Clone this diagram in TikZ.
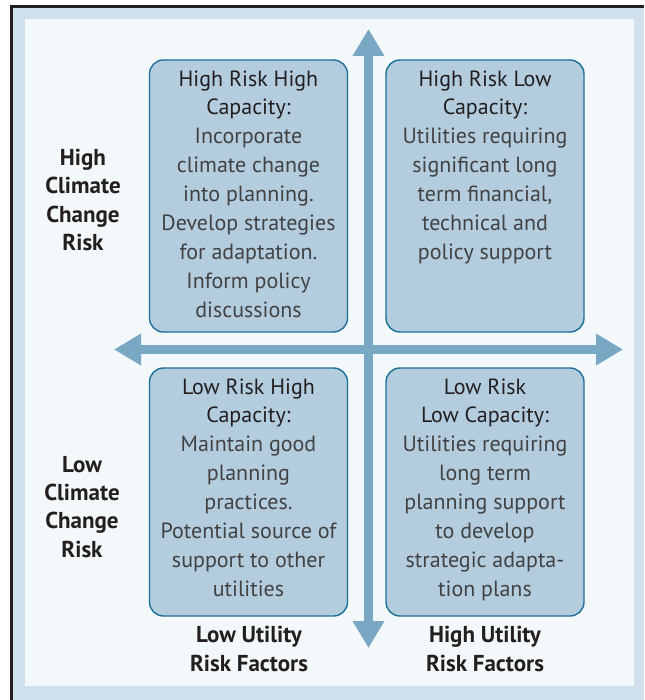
\documentclass[tikz,border=0pt]{standalone}
\usepackage{fontspec}
\setmainfont{PT Sans}
\usepackage{tikz}
\usetikzlibrary{arrows.meta,positioning}

\definecolor{frameband}{HTML}{CFE0EC}
\definecolor{panelbg}{HTML}{F3F9FA}
\definecolor{boxfill}{HTML}{B3CCDE}
\definecolor{boxline}{HTML}{1D6E98}
\definecolor{axisblue}{HTML}{79A7C4}
\definecolor{inktext}{HTML}{231F20}
\definecolor{bodytext}{HTML}{424242}

\newcommand{\qtitle}[1]{\textcolor{inktext}{#1}}

\begin{document}
\begin{tikzpicture}[
x=1pt, y=-1pt,
font=\fontsize{22}{28.9}\selectfont,
quadrant/.style={draw=boxline, fill=boxfill, line width=1.4pt, rounded corners=14pt,
  minimum width=198pt, minimum height=272pt, inner sep=0pt},
lowquadrant/.style={quadrant, minimum height=248pt},
quadtext/.style={align=center, anchor=north, inner sep=0pt, text=bodytext},
sidelabel/.style={align=center, inner sep=0pt, text=inktext,
  font=\fontsize{23}{28.2}\selectfont\bfseries},
riskaxis/.style={line width=8.5pt, draw=axisblue,
  {Triangle[length=27pt,width=30pt]}-{Triangle[length=27pt,width=30pt]}}
]
    \useasboundingbox (0,0) rectangle (644,700);

    % Frame
    \fill[frameband] (11,6) rectangle (644,700);
    \fill[panelbg] (25,19) rectangle (634,686);
    \draw[inktext, line width=2.5pt] (11.3,700) -- (11.3,6.6) -- (644,6.6);

    % Quadrant boxes
    \node[quadrant] (hihc) at (248.5,196) {};
    \node[quadrant] (hilc) at (485,196) {};
    \node[lowquadrant] (lohc) at (248.5,492) {};
    \node[lowquadrant] (lolc) at (485,492) {};

    % Draw axes
    \draw
  	(368.5,29) coordinate (axtop)
  	(368.5,648) coordinate (axbottom)
  	(114,349.5) coordinate (axleft)
  	(623,349.5) coordinate (axright);
    \draw[riskaxis] (axbottom) -- (axtop);
    \draw[riskaxis] (axleft) -- (axright);

    % Quadrant texts
    \node[quadtext] (hihctext) at ([yshift=-11pt]hihc.north)
      {\qtitle{High Risk High}\\ \qtitle{Capacity:}\\ Incorporate\\ climate change\\
       into planning.\\ Develop strategies\\ for adaptation.\\ Inform policy\\ discussions};
    \node[quadtext] (hilctext) at ([yshift=-11pt]hilc.north)
      {\qtitle{High Risk Low}\\ \qtitle{Capacity:}\\ Utilities requiring\\ significant long\\
       term financial,\\ technical and\\ policy support};
    \node[quadtext] (lohctext) at ([yshift=-11pt]lohc.north)
      {\qtitle{Low Risk High}\\ \qtitle{Capacity:}\\ Maintain good\\ planning\\
       practices.\\ Potential source of\\ support to other\\ utilities};
    \node[quadtext] (lolctext) at ([yshift=-11pt]lolc.north)
      {\qtitle{Low Risk}\\ \qtitle{Low Capacity:}\\ Utilities requiring\\ long term\\
       planning support\\ to develop\\ strategic adapta-\\ tion plans};

    % Axis labels
    \node[sidelabel] (highclimate) at (83,200) {High\\ Climate\\ Change\\ Risk};
    \node[sidelabel] (lowclimate) at (82,507) {Low\\ Climate\\ Change\\ Risk};
    \node[sidelabel] (lowutility) at (249,649) {Low Utility\\ Risk Factors};
    \node[sidelabel] (highutility) at (485,649) {High Utility\\ Risk Factors};
\end{tikzpicture}
\end{document}
